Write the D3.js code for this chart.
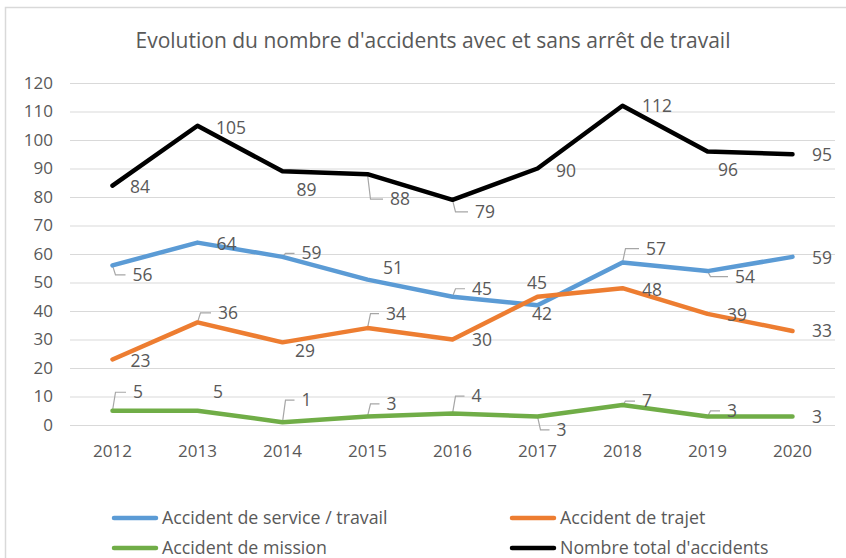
<!DOCTYPE html>
<html lang="fr">
<head>
<meta charset="UTF-8">
<title>Evolution du nombre d'accidents</title>
<script src="https://d3js.org/d3.v7.min.js"></script>
<style>
  body { margin: 0; background: #fff; }
  svg text { font-family: "Open Sans", sans-serif; fill: #595959; }
  .axis path { display: none; }
  .axis--y line { stroke: #d9d9d9; stroke-width: 1.2; }
</style>
</head>
<body>
<svg width="846" height="558"></svg>
<script>
// données
const years = ["2012", "2013", "2014", "2015", "2016", "2017", "2018", "2019", "2020"];
const service = [56, 64, 59, 51, 45, 42, 57, 54, 59];
const trajet = [23, 36, 29, 34, 30, 45, 48, 39, 33];
const mission = [5, 5, 1, 3, 4, 3, 7, 3, 3];
const total = [84, 105, 89, 88, 79, 90, 112, 96, 95];
const yTicks = [0, 10, 20, 30, 40, 50, 60, 70, 80, 90, 100, 110, 120];

// placement des étiquettes (décalage x, décalage y du milieu, ligne de repère)
const labelPos = {
  service: [[20, 9.5, 1], [19, 1.5, 0], [19, -3.5, 1], [15.5, -11.5, 0], [19.5, -8, 1], [-5.5, 9, 0], [23.5, -14, 1], [27.5, 5.5, 1], [19.5, 1.5, 0]],
  trajet: [[18, 1.5, 0], [20.5, -9.5, 1], [12.5, 9, 0], [18.5, -14.5, 1], [19.5, 0.5, 0], [-10.5, -14, 0], [19.5, 2, 0], [19.5, 1, 0], [19.5, 0.5, 0]],
  mission: [[20.5, -18.5, 1], [15.5, -18.5, 0], [19, -22, 1], [19, -12.5, 1], [19, -17.5, 1], [19, 13.5, 1], [19.5, -4, 1], [19.5, -5.5, 1], [19.5, 1, 0]],
  total: [[17.5, 1.5, 0], [18.5, 2, 0], [14, 19, 0], [22.5, 25, 1], [22.5, 12, 1], [18.5, 2, 0], [19.5, 0.5, 0], [10.5, 18.5, 0], [19.5, 1, 0]]
};

const series = [
  {key: "service", name: "Accident de service / travail", values: service, color: "#5b9bd5"},
  {key: "trajet", name: "Accident de trajet", values: trajet, color: "#ed7d31"},
  {key: "mission", name: "Accident de mission", values: mission, color: "#70ad47"},
  {key: "total", name: "Nombre total d'accidents", values: total, color: "#000000"}
];

const svg = d3.select("svg");

// cadre du graphique
svg.append("rect")
  .attr("x", 5.5).attr("y", 7.5)
  .attr("width", 1000).attr("height", 1000)
  .attr("fill", "none").attr("stroke", "#d9d9d9").attr("stroke-width", 1.5);

svg.append("text")
  .attr("x", 433).attr("y", 48)
  .attr("text-anchor", "middle")
  .style("font-size", "21px")
  .text("Evolution du nombre d'accidents avec et sans arrêt de travail");

const x = d3.scaleBand().domain(years).range([70, 835]);
const y = d3.scaleLinear().domain([0, 120]).range([425, 83]);
const cx = d => x(d) + x.bandwidth() / 2;

svg.append("g")
  .attr("class", "axis axis--y")
  .attr("transform", "translate(70,0)")
  .call(d3.axisLeft(y).tickValues(yTicks).tickSize(-765).tickPadding(17))
  .selectAll("text").style("font-size", "17px").attr("fill", null);

svg.append("g")
  .attr("class", "axis axis--x")
  .attr("transform", "translate(0,425)")
  .call(d3.axisBottom(x).tickSize(0).tickPadding(20))
  .selectAll("text").style("font-size", "17px").attr("fill", null);

const line = d3.line()
  .x((d, i) => cx(years[i]))
  .y(d => y(d));

// lignes de repère
series.forEach(s => {
  const g = svg.append("g");
  s.values.forEach((v, i) => {
    const [dx, dy, lead] = labelPos[s.key][i];
    const px = cx(years[i]), py = y(v);
    const lx = px + dx, my = py + dy;
    if (lead) {
      g.append("polyline")
        .attr("points", [[px, py], [px + 3, my], [lx - 7, my]].map(p => p.join(",")).join(" "))
        .attr("fill", "none")
        .attr("stroke", "#a6a6a6")
        .attr("stroke-width", 1.2);
    }
  });
});

series.forEach(s => {
  svg.append("path")
    .datum(s.values)
    .attr("d", line)
    .attr("fill", "none")
    .attr("stroke", s.color)
    .attr("stroke-width", 4.5)
    .attr("stroke-linejoin", "round")
    .attr("stroke-linecap", "round");
});

// étiquettes de données
series.forEach(s => {
  s.values.forEach((v, i) => {
    const [dx, dy] = labelPos[s.key][i];
    svg.append("text")
      .attr("x", cx(years[i]) + dx)
      .attr("y", y(v) + dy + 6)
      .style("font-size", "17.5px")
      .text(v);
  });
});

// légende
const legendPos = [[112, 518], [510, 518], [112, 548], [510, 548]];
series.forEach((s, i) => {
  const [lx, ly] = legendPos[i];
  svg.append("line")
    .attr("x1", lx + 2).attr("x2", lx + 44)
    .attr("y1", ly).attr("y2", ly)
    .attr("stroke", s.color).attr("stroke-width", 4.5)
    .attr("stroke-linecap", "round");
  svg.append("text")
    .attr("x", lx + 50).attr("y", ly + 6)
    .style("font-size", "17.8px")
    .text(s.name);
});
</script>
</body>
</html>
